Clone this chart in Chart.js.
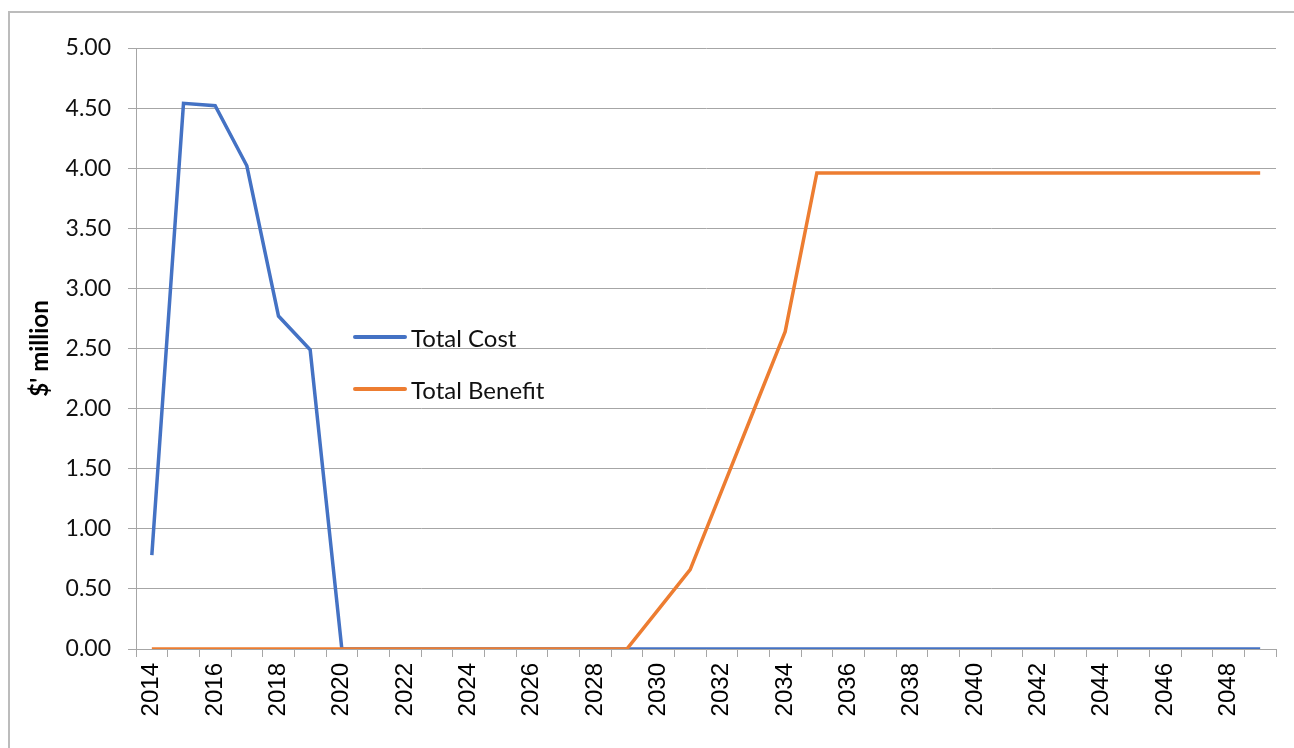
<!DOCTYPE html>
<html>
<head>
<meta charset="utf-8">
<script src="https://cdn.jsdelivr.net/npm/chart.js@4"></script>
<style>
  html, body { margin: 0; padding: 0; background: #fff; }
  #wrap { position: relative; width: 1294px; height: 748px; overflow: hidden; }
  #frame {
    position: absolute; left: 8px; top: 11px; width: 1400px; height: 800px;
    border-left: 2px solid #bcbcbc; border-top: 2px solid #bcbcbc;
    pointer-events: none;
  }
  #legend { position: absolute; left: 353px; top: 320px; font-family: Lato, sans-serif; font-size: 24px; color: #111; }
  .item { display: flex; align-items: center; height: 34px; margin-bottom: 18px; }
  .swatch { width: 54px; height: 3.5px; border-radius: 2px; margin-right: 4px; }
</style>
</head>
<body>
<div id="wrap">
  <canvas id="costChart"></canvas>
  <div id="frame"></div>
  <div id="legend"></div>
</div>
<script>
// ====== Data ======
const years = [
  "2014", "2015", "2016", "2017", "2018", "2019", "2020", "2021", "2022",
  "2023", "2024", "2025", "2026", "2027", "2028", "2029", "2030", "2031",
  "2032", "2033", "2034", "2035", "2036", "2037", "2038", "2039", "2040",
  "2041", "2042", "2043", "2044", "2045", "2046", "2047", "2048", "2049"
];

const totalCost = [
  0.78, 4.54, 4.52, 4.02, 2.77, 2.49, 0, 0, 0,
  0, 0, 0, 0, 0, 0, 0, 0, 0,
  0, 0, 0, 0, 0, 0, 0, 0, 0,
  0, 0, 0, 0, 0, 0, 0, 0, 0
];

const totalBenefit = [
  0, 0, 0, 0, 0, 0, 0, 0, 0,
  0, 0, 0, 0, 0, 0, 0, 0.33, 0.66,
  1.32, 1.98, 2.64, 3.96, 3.96, 3.96, 3.96, 3.96, 3.96,
  3.96, 3.96, 3.96, 3.96, 3.96, 3.96, 3.96, 3.96, 3.96
];

const yTicks = [0, 0.5, 1, 1.5, 2, 2.5, 3, 3.5, 4, 4.5, 5];

const gridGrey = "#a6a6a6";

// ====== Chart.js ======
const ctx = document.getElementById("costChart").getContext("2d");

const costChart = new Chart(ctx, {
  type: "line",
  data: {
    labels: years,
    datasets: [
      {
        label: "Total Cost",
        data: totalCost,
        borderColor: "#4472C4",
        borderWidth: 3.5,
        pointRadius: 0,
        tension: 0,
        fill: false,
        order: 1
      },
      {
        label: "Total Benefit",
        data: totalBenefit,
        borderColor: "#ED7D31",
        borderWidth: 3.5,
        pointRadius: 0,
        tension: 0,
        fill: false,
        order: 0
      }
    ]
  },
  options: {
    responsive: true,
    maintainAspectRatio: false,
    animation: false,
    layout: { padding: { top: 48, right: 18, bottom: 0, left: 0 } },
    plugins: {
      legend: { display: false },
      tooltip: { enabled: false }
    },
    scales: {
      x: {
        offset: true,
        grid: {
          offset: true,
          drawOnChartArea: false,
          color: gridGrey,
          tickLength: 8
        },
        border: { color: gridGrey, width: 1 },
        ticks: {
          autoSkip: false,
          minRotation: 90,
          maxRotation: 90,
          padding: 6,
          color: "#000",
          font: { family: "'Liberation Sans', Arial, sans-serif", size: 24 },
          callback: (v, i) => (i % 2 === 0 ? years[i] : "")
        },
        afterFit: (scale) => {
          scale.height = 99;
          // rotated labels don't need extra side room
          scale.paddingLeft = 0;
          scale.paddingRight = 0;
        }
      },
      y: {
        min: yTicks[0],
        max: yTicks[yTicks.length - 1],
        afterBuildTicks: (scale) => { scale.ticks = yTicks.map((v) => ({ value: v })); },
        grid: { color: gridGrey, tickLength: 8 },
        border: { color: gridGrey, width: 1 },
        ticks: {
          padding: 17,
          color: "#111",
          font: { family: "Lato, sans-serif", size: 23 },
          callback: (v) => Number(v).toFixed(2)
        },
        title: {
          display: true,
          text: "$' million",
          color: "#000",
          padding: { top: 26, bottom: 0 },
          font: { family: "Lato, sans-serif", size: 24, weight: "bold" }
        },
        afterFit: (scale) => { scale.width = 136; }
      }
    }
  }
});

// ====== Legend ======
const legendBox = document.getElementById("legend");
costChart.data.datasets.forEach((ds) => {
  const row = document.createElement("div");
  row.className = "item";
  const sw = document.createElement("span");
  sw.className = "swatch";
  sw.style.background = ds.borderColor;
  const txt = document.createElement("span");
  txt.textContent = ds.label;
  row.appendChild(sw);
  row.appendChild(txt);
  legendBox.appendChild(row);
});
</script>
</body>
</html>
